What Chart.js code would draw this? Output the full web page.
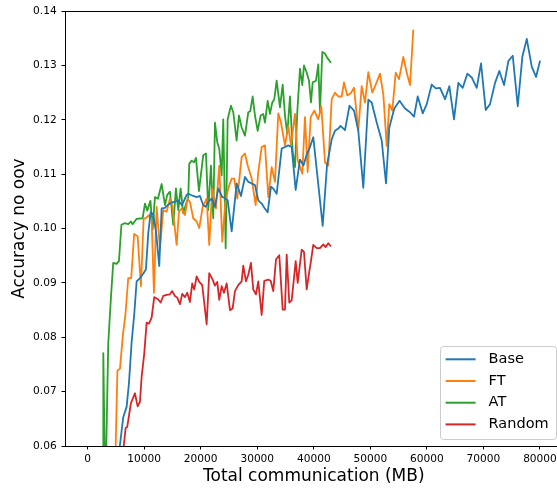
<!DOCTYPE html>
<html>
<head>
<meta charset="utf-8">
<script src="https://cdn.jsdelivr.net/npm/chart.js@4.4.0/dist/chart.umd.min.js"></script>
<style>
  html, body { margin: 0; padding: 0; background: #fff; overflow: hidden; }
  #wrap { position: relative; width: 564px; height: 489px; }
</style>
</head>
<body>
<div id="wrap"><canvas id="grafico"></canvas></div>
<script>
// Eixo X: comunicação total (MB); eixo Y: accuracy sem oov
const xTicks = [0, 10000, 20000, 30000, 40000, 50000, 60000, 70000, 80000];
const yTicks = [0.06, 0.07, 0.08, 0.09, 0.10, 0.11, 0.12, 0.13, 0.14];

const baseX = [4560, 6298, 6899, 7306, 7784, 8244, 8668, 9252, 9836, 10313, 10720, 11145, 11605, 12135, 12666,
  13091, 13674, 14258, 14860, 15443, 16027, 16682, 17513, 17796, 18681, 19282, 19866, 20450, 20874, 21334,
  21936, 22520, 23103, 23811, 24165, 24766, 25474, 26358, 27119, 27826, 28410, 29012, 29596, 30179, 30781,
  31277, 31842, 32426, 32780, 33434, 34319, 34903, 35486, 36088, 36795, 37556, 38175, 38794, 39326, 39909,
  41572, 42332, 43164, 43748, 44332, 44721, 45517, 46313, 47109, 47870, 48754, 49639, 50240, 51125, 52009,
  52770, 53353, 54238, 55158, 56131, 57015, 57723, 58377, 59262, 59970, 60854, 61562, 62323, 63207, 63968,
  64799, 65560, 66338, 67152, 67930, 68815, 69576, 70407, 71168, 72052, 72813, 73645, 74405, 75184, 76068,
  76882, 77660, 78545, 79305, 80013];
const baseY = [0.050, 0.0653, 0.0672, 0.0715, 0.0791, 0.0842, 0.0903, 0.0909, 0.0917, 0.0925, 0.0991, 0.1030, 0.1026, 0.0991, 0.0931,
  0.1037, 0.1038, 0.1044, 0.1048, 0.1049, 0.1052, 0.1043, 0.1062, 0.1064, 0.1060, 0.1058, 0.1060, 0.1043, 0.1040, 0.1049,
  0.1055, 0.1040, 0.1074, 0.1058, 0.1057, 0.1052, 0.0995, 0.1083, 0.1060, 0.1095, 0.1086, 0.1083, 0.1080, 0.1052, 0.1046,
  0.1038, 0.1030, 0.1077, 0.1074, 0.1064, 0.1147, 0.1150, 0.1153, 0.1150, 0.1071, 0.1127, 0.1116, 0.1138, 0.1150, 0.1168,
  0.1005, 0.1116, 0.1164, 0.1180, 0.1184, 0.1189, 0.1181, 0.1226, 0.1217, 0.1180, 0.1075, 0.1237, 0.1232, 0.1195, 0.1162,
  0.1083, 0.1186, 0.1221, 0.1235, 0.1221, 0.1214, 0.1206, 0.1243, 0.1212, 0.1229, 0.1265, 0.1258, 0.1259, 0.1238, 0.1262,
  0.1201, 0.1268, 0.1259, 0.1285, 0.1278, 0.1259, 0.1304, 0.1218, 0.1229, 0.1268, 0.1290, 0.1264, 0.1308, 0.1318, 0.1225,
  0.1316, 0.1349, 0.1298, 0.1279, 0.1309];

const ftX = [4738, 5272, 5714, 6245, 6687, 7182, 7713, 8226, 8845, 9429, 9906, 10366, 10897, 11322, 11729,
  12206, 12790, 13374, 13975, 14559, 14966, 15744, 16151, 16629, 17213, 17690, 18097, 18681, 19282, 19742,
  20344, 21051, 21511, 22042, 22696, 23280, 23811, 24341, 24872, 25474, 25934, 26464, 27243, 27826, 28304,
  29012, 29720, 30179, 30781, 31365, 31948, 32550, 33134, 33718, 34195, 34903, 35486, 35964, 36672, 37149,
  37963, 38441, 38918, 39449, 40086, 40793, 41324, 41978, 42562, 43164, 43748, 44332, 44933, 45340, 45924,
  46525, 47109, 47870, 48471, 49055, 49639, 50346, 50948, 51708, 52292, 52893, 53353, 53884, 54485, 55069,
  55830, 56431, 57015, 57599];
const ftY = [0.050, 0.0739, 0.0742, 0.0805, 0.0842, 0.0909, 0.0909, 0.0990, 0.0986, 0.0894, 0.1018, 0.1020, 0.1025, 0.1016, 0.0882,
  0.1040, 0.0964, 0.1034, 0.1031, 0.1055, 0.1043, 0.0970, 0.1031, 0.1037, 0.1025, 0.1055, 0.1049, 0.1019, 0.1013, 0.1001,
  0.1040, 0.1055, 0.0970, 0.1074, 0.1037, 0.1116, 0.0976, 0.1046, 0.1074, 0.1092, 0.1092, 0.1055, 0.1132, 0.1138, 0.1116,
  0.1092, 0.1043, 0.1104, 0.1150, 0.1153, 0.1058, 0.1113, 0.1086, 0.1212, 0.1195, 0.1153, 0.1189, 0.1153, 0.1211, 0.1126,
  0.1101, 0.1205, 0.1104, 0.1205, 0.1217, 0.1201, 0.1225, 0.1122, 0.1116, 0.1238, 0.1250, 0.1243, 0.1243, 0.1269, 0.1245,
  0.1249, 0.1259, 0.1180, 0.1262, 0.1232, 0.1288, 0.1250, 0.1265, 0.1285, 0.1247, 0.1152, 0.1229, 0.1217, 0.1287, 0.1275,
  0.1316, 0.1287, 0.1264, 0.1366];

const atX = [2723, 2776, 3129, 3644, 4122, 4529, 5130, 5537, 5979, 6598, 7182, 7660, 7960, 8668, 9730,
  10136, 10543, 11109, 11499, 11906, 12436, 13091, 13674, 14081, 14559, 15143, 15620, 16027, 16452, 16912,
  17336, 17796, 17973, 18398, 18805, 19158, 19689, 20450, 20927, 21334, 21812, 22219, 22520, 22926, 23280,
  23705, 23988, 24412, 24766, 25350, 25757, 26358, 26765, 27243, 27826, 28410, 28764, 29189, 29596, 30073,
  30604, 31064, 31365, 31842, 32249, 32656, 33010, 33434, 34018, 34496, 34903, 35309, 35787, 36265, 36672,
  37078, 37556, 37963, 38264, 38742, 39149, 39503, 39803, 40387, 40793, 41094, 41501, 41978, 42385, 43040];
const atY = [0.050, 0.0771, 0.050, 0.0788, 0.0873, 0.0937, 0.0935, 0.0940, 0.1007, 0.1010, 0.1008, 0.1013, 0.1008, 0.1018, 0.1019,
  0.1046, 0.1033, 0.1051, 0.0998, 0.1058, 0.1055, 0.1082, 0.1043, 0.1062, 0.1068, 0.1007, 0.1074, 0.1034, 0.1074, 0.1028,
  0.1043, 0.1058, 0.1119, 0.1125, 0.1122, 0.1130, 0.1069, 0.1135, 0.1138, 0.1034, 0.1116, 0.1019, 0.1195, 0.1159, 0.1147,
  0.1098, 0.1201, 0.0964, 0.1201, 0.1226, 0.1214, 0.1162, 0.1208, 0.1186, 0.1171, 0.1214, 0.1216, 0.1243, 0.1208, 0.1180,
  0.1208, 0.1211, 0.1195, 0.1235, 0.1211, 0.1232, 0.1238, 0.1272, 0.1223, 0.1265, 0.1208, 0.1174, 0.1243, 0.1141, 0.1113,
  0.1214, 0.1294, 0.1264, 0.1300, 0.1287, 0.1272, 0.1232, 0.1269, 0.1272, 0.1302, 0.1214, 0.1325, 0.1322, 0.1314, 0.1305];

const randomX = [5375, 6722, 7005, 7660, 8367, 8845, 9252, 9553, 10013, 10437, 10844, 11322, 11781, 12436, 12914,
  13374, 13975, 14559, 14966, 15444, 15850, 16328, 16735, 17213, 17620, 18097, 18504, 18858, 19282, 19742,
  20273, 21051, 21511, 22113, 22519, 22926, 23280, 23705, 24112, 24589, 25173, 25651, 26058, 26642, 27243,
  27526, 28004, 28410, 28888, 29295, 29773, 30179, 30781, 31241, 31948, 32373, 32833, 33311, 33895, 34496,
  34903, 35203, 35663, 36088, 36495, 36795, 37149, 37857, 38264, 38742, 39202, 39449, 39909, 40510, 41094,
  41678, 42102, 42562, 43040];
const randomY = [0.050, 0.0633, 0.0635, 0.0679, 0.0697, 0.0673, 0.0681, 0.0727, 0.0770, 0.0827, 0.0825, 0.0836, 0.0874, 0.0870, 0.0864,
  0.0876, 0.0878, 0.0879, 0.0885, 0.0876, 0.0873, 0.0861, 0.0880, 0.0874, 0.0882, 0.0865, 0.0899, 0.0888, 0.0912, 0.0902,
  0.0896, 0.0824, 0.0918, 0.0906, 0.0895, 0.0902, 0.0869, 0.0894, 0.0882, 0.0899, 0.0850, 0.0853, 0.0885, 0.0896, 0.0903,
  0.0932, 0.0903, 0.0915, 0.0937, 0.0888, 0.0879, 0.0903, 0.0841, 0.0904, 0.0906, 0.0904, 0.0885, 0.0943, 0.0951, 0.0851,
  0.0851, 0.0952, 0.0864, 0.0868, 0.0909, 0.0940, 0.0900, 0.0961, 0.0957, 0.0888, 0.0921, 0.0937, 0.0970, 0.0964, 0.0964,
  0.0971, 0.0966, 0.0973, 0.0967];

const series = [
  { label: 'Base',   xs: baseX,   ys: baseY,   cor: '#1f77b4' },
  { label: 'FT',     xs: ftX,     ys: ftY,     cor: '#ff7f0e' },
  { label: 'AT',     xs: atX,     ys: atY,     cor: '#2ca02c' },
  { label: 'Random', xs: randomX, ys: randomY, cor: '#d62728' }
];

const fonte = 'DejaVu Sans';

// moldura + legenda no canto inferior direito, estilo matplotlib
const molduraLegenda = {
  id: 'molduraLegenda',
  afterDraw(chart) {
    const { ctx, chartArea: a } = chart;
    ctx.save();
    ctx.strokeStyle = '#000';
    ctx.lineWidth = 1;
    ctx.beginPath();
    ctx.moveTo(Math.round(a.left) + 0.5, Math.round(a.bottom) + 0.5);
    ctx.lineTo(Math.round(a.left) + 0.5, Math.round(a.top) + 0.5);
    ctx.lineTo(Math.round(a.right) + 0.5, Math.round(a.top) + 0.5);
    ctx.lineTo(Math.round(a.right) + 0.5, Math.round(a.bottom) + 0.5);
    ctx.stroke();

    const w = 116, h = 93;
    const bx = a.right - 7 - w;
    const by = a.bottom - 7 - h;
    ctx.beginPath();
    ctx.roundRect(Math.round(bx) + 0.5, Math.round(by) + 0.5, w, h, 3);
    ctx.fillStyle = 'rgba(255,255,255,0.8)';
    ctx.fill();
    ctx.strokeStyle = '#cccccc';
    ctx.stroke();

    ctx.font = '14.5px "' + fonte + '"';
    ctx.textBaseline = 'middle';
    ctx.textAlign = 'left';
    chart.data.datasets.forEach((ds, i) => {
      const yy = by + 13.3 + i * 21.7;
      ctx.strokeStyle = ds.borderColor;
      ctx.lineWidth = 2;
      ctx.beginPath();
      ctx.moveTo(bx + 6, yy);
      ctx.lineTo(bx + 36, yy);
      ctx.stroke();
      ctx.fillStyle = '#000';
      ctx.fillText(ds.label, bx + 49, yy);
    });
    ctx.restore();
  }
};

new Chart(document.getElementById('grafico'), {
  type: 'line',
  data: {
    datasets: series.map(s => ({
      label: s.label,
      data: s.xs.map((x, i) => ({ x: x, y: s.ys[i] })),
      borderColor: s.cor,
      backgroundColor: s.cor,
      borderWidth: 1.8,
      borderJoinStyle: 'round',
      pointRadius: 0,
      fill: false,
      tension: 0
    }))
  },
  options: {
    responsive: true,
    maintainAspectRatio: false,
    animation: false,
    devicePixelRatio: 1,
    layout: { padding: { top: 7.3, right: 1.4, left: 0, bottom: 0 } },
    plugins: {
      legend: { display: false },
      tooltip: { enabled: false }
    },
    scales: {
      x: {
        type: 'linear',
        min: -4000,
        max: 84000,
        afterFit: s => { s.height = 43; },
        afterBuildTicks: s => { s.ticks = xTicks.map(v => ({ value: v })); },
        grid: { drawOnChartArea: false, drawTicks: true, tickLength: 3.5, tickColor: '#000', color: '#000' },
        border: { display: true, color: '#000', width: 1 },
        ticks: {
          color: '#000', padding: 3, maxRotation: 0, autoSkip: false,
          font: { family: fonte, size: 10.6 },
          callback: v => String(v)
        },
        title: {
          display: true, text: 'Total communication (MB)', color: '#000',
          font: { family: fonte, size: 17 }, padding: { top: 0, bottom: 2 }
        }
      },
      y: {
        type: 'linear',
        min: 0.06,
        max: 0.14,
        afterFit: s => { s.width = 65; },
        afterBuildTicks: s => { s.ticks = yTicks.map(v => ({ value: v })); },
        grid: { drawOnChartArea: false, drawTicks: true, tickLength: 3.5, tickColor: '#000', color: '#000' },
        border: { display: true, color: '#000', width: 1 },
        ticks: {
          color: '#000', padding: 4.8,
          font: { family: fonte, size: 10.6 },
          callback: v => v.toFixed(2)
        },
        title: {
          display: true, text: 'Accuracy no oov', color: '#000',
          font: { family: fonte, size: 17 }, padding: { top: 9, bottom: 0 }
        }
      }
    }
  },
  plugins: [molduraLegenda]
});
</script>
</body>
</html>
